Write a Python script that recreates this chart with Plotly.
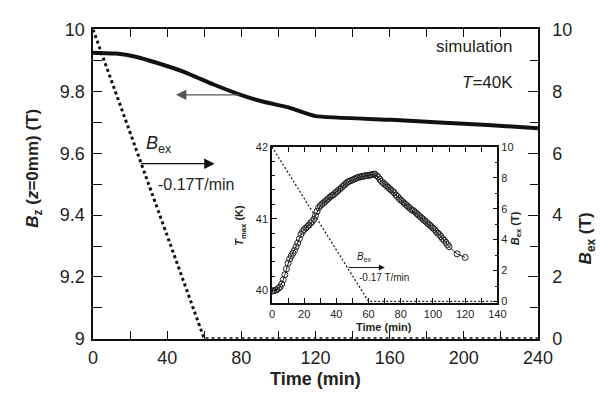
import plotly.graph_objects as go

# ---------------- data ----------------
bz_time = [0, 12.5, 23, 33.4, 49, 64.7, 77.7, 90.8, 104.9, 120, 161, 213, 240]
bz_vals = [9.925, 9.922, 9.912, 9.894, 9.863, 9.823, 9.793, 9.768, 9.749, 9.720, 9.708, 9.691, 9.681]

bex_time = [0, 60, 240]
bex_vals = [10, 0, 0]

inset_bex_time = [0, 60, 140]
inset_bex_vals = [10, 0, 0]

tmax_time = list(range(0, 111)) + [115, 120]
tmax_vals = [
    39.99, 40.00, 40.00, 40.01, 40.03, 40.05, 40.09, 40.15, 40.22, 40.30,
    40.38, 40.44, 40.48, 40.52, 40.56, 40.61, 40.66, 40.72, 40.78, 40.82,
    40.85, 40.87, 40.89, 40.91, 40.94, 40.96, 40.99, 41.04, 41.10, 41.15,
    41.18, 41.20, 41.22, 41.24, 41.26, 41.28, 41.30, 41.32, 41.33, 41.35,
    41.37, 41.39, 41.41, 41.43, 41.45, 41.47, 41.49, 41.51, 41.52, 41.53,
    41.54, 41.55, 41.56, 41.57, 41.58, 41.58, 41.59, 41.59, 41.60, 41.60,
    41.60, 41.61, 41.61, 41.62, 41.62, 41.60, 41.58, 41.55, 41.52, 41.50,
    41.48, 41.46, 41.44, 41.42, 41.40, 41.38, 41.36, 41.33, 41.31, 41.28,
    41.26, 41.24, 41.22, 41.20, 41.18, 41.16, 41.14, 41.12, 41.11, 41.09,
    41.07, 41.05, 41.03, 41.01, 40.99, 40.97, 40.95, 40.93, 40.91, 40.89,
    40.87, 40.85, 40.82, 40.80, 40.78, 40.75, 40.72, 40.70, 40.67, 40.64,
    40.61, 40.51, 40.46,
]

main_x_ticks = [0, 40, 80, 120, 160, 200, 240]
main_yl_ticks = [9, 9.2, 9.4, 9.6, 9.8, 10]
main_yl_labels = ["9", "9.2", "9.4", "9.6", "9.8", "10"]
main_yr_ticks = [0, 2, 4, 6, 8, 10]
inset_x_ticks = [0, 20, 40, 60, 80, 100, 120, 140]
inset_yl_ticks = [40, 41, 42]
inset_yr_ticks = [0, 2, 4, 6, 8, 10]

# ---------------- layout helpers ----------------
W, H = 611, 403
FONT = "Arial, Liberation Sans, sans-serif"
TXT = "#231f20"


def px(x):
    return x / W


def py(y):
    return 1 - y / H


fig = go.Figure()

# main traces
fig.add_trace(go.Scatter(x=bz_time, y=bz_vals, mode="lines",
                         line=dict(color="#111", width=4, shape="spline", smoothing=0.4),
                         xaxis="x", yaxis="y", showlegend=False))
fig.add_trace(go.Scatter(x=bex_time, y=bex_vals, mode="lines",
                         line=dict(color="#111", width=3, dash="3px,3px"),
                         xaxis="x", yaxis="y2", showlegend=False))
# inset traces
fig.add_trace(go.Scatter(x=inset_bex_time, y=inset_bex_vals, mode="lines",
                         line=dict(color="#222", width=1.3, dash="2px,2px"),
                         xaxis="x2", yaxis="y4", showlegend=False))
fig.add_trace(go.Scatter(x=tmax_time, y=tmax_vals, mode="lines+markers",
                         line=dict(color="#222", width=1),
                         marker=dict(symbol="circle-open", size=6,
                                     color="#222", line=dict(width=1)),
                         xaxis="x2", yaxis="y3", showlegend=False))

axis_common = dict(showline=True, linecolor="#111", linewidth=1.5,
                   showgrid=False, zeroline=False, ticks="inside",
                   tickcolor="#111", tickwidth=1.2)

main_dom_x = [px(91), px(551)]
main_dom_y = [py(346), py(20.5)]
ins_dom_x = [px(276), px(509)]
ins_dom_y = [py(308), py(144)]

fig.update_layout(
    width=W, height=H,
    margin=dict(l=0, r=0, t=0, b=0),
    paper_bgcolor="white", plot_bgcolor="rgba(0,0,0,0)",
    font=dict(family=FONT, color=TXT),
    xaxis=dict(domain=main_dom_x, anchor="y", range=[0, 240],
               tickvals=main_x_ticks, ticklen=8, mirror="allticks",
               ticklabelstandoff=2,
               minor=dict(dtick=20, ticklen=5, ticks="inside", tickcolor="#111"),
               tickfont=dict(size=18, color=TXT), **axis_common),
    yaxis=dict(domain=main_dom_y, anchor="x", range=[9, 10],
               tickvals=main_yl_ticks, ticktext=main_yl_labels, ticklen=9,
               ticklabelstandoff=3,
               minor=dict(dtick=0.1, ticklen=9, ticks="inside", tickcolor="#111"),
               tickfont=dict(size=18, color=TXT), **axis_common),
    yaxis2=dict(domain=main_dom_y, anchor="x", overlaying="y", side="right",
                range=[0, 10], tickvals=main_yr_ticks, ticklen=10,
                ticklabelstandoff=9,
                minor=dict(dtick=1, ticklen=8, ticks="inside", tickcolor="#111"),
                tickfont=dict(size=18, color=TXT), **axis_common),
    xaxis2=dict(domain=ins_dom_x, anchor="y3", range=[0, 140],
                tickvals=inset_x_ticks, ticklen=5, mirror="allticks",
                minor=dict(dtick=10, ticklen=3, ticks="inside", tickcolor="#111"),
                tickfont=dict(size=11, color=TXT), **axis_common),
    yaxis3=dict(domain=ins_dom_y, anchor="x2", range=[39.83, 42],
                tickvals=inset_yl_ticks, ticklen=5,
                minor=dict(dtick=0.2, ticklen=3, ticks="inside", tickcolor="#111"),
                tickfont=dict(size=11, color=TXT), **axis_common),
    yaxis4=dict(domain=ins_dom_y, anchor="x2", overlaying="y3", side="right",
                range=[-0.08, 10], tickvals=inset_yr_ticks, ticklen=5,
                minor=dict(dtick=1, ticklen=3, ticks="inside", tickcolor="#111"),
                tickfont=dict(size=11, color=TXT), **axis_common),
)

ann = []


def text(x, y, s, size, xanchor="center", angle=0):
    ann.append(dict(x=px(x), y=py(y), xref="paper", yref="paper", text=s,
                    showarrow=False, xanchor=xanchor, yanchor="middle",
                    textangle=angle, font=dict(size=size, color=TXT, family=FONT)))


def arrow(x_tip, y_tip, x_tail, size=1.0, width=1.2, color="#111"):
    ann.append(dict(x=px(x_tip), y=py(y_tip), xref="paper", yref="paper",
                    ax=x_tail - x_tip, ay=0, axref="pixel", ayref="pixel",
                    text="", showarrow=True, arrowhead=2, arrowsize=size,
                    arrowwidth=width, arrowcolor=color))


# main axis titles
text(321, 388, "<b>Time (min)</b>", 18)
text(30, 167, "<b><i>B</i><sub>z</sub> (<i>z</i>=0mm) (T)</b>", 17, angle=-90)
text(602, 240, "<b><i>B</i><sub>ex</sub> (T)</b>", 17, angle=-90)
# main labels
text(527, 38, "simulation", 17, xanchor="right")
text(527, 76, "<i>T</i>=40K", 17, xanchor="right")
text(144, 142, "<i>B</i><sub>ex</sub>", 18, xanchor="left")
text(156, 184, "-0.17T/min", 16, xanchor="left")
arrow(216.7, 161.7, 141.7, size=1.6, width=1.3)
arrow(176.7, 89.3, 241.7, size=1.6, width=1.3, color="#555")
# inset titles
text(392, 334, "<b>Time (min)</b>", 11)
text(243, 227, "<b><i>T</i><sub>max</sub> (K)</b>", 11, angle=-90)
text(528, 230, "<b><i>B</i><sub>ex</sub> (T)</b>", 11, angle=-90)
# inset labels
text(362, 260, "<i>B</i><sub>ex</sub>", 10, xanchor="left")
text(364, 281, "-0.17 T/min", 10, xanchor="left")
arrow(392.7, 271, 355, size=1.2, width=1)

fig.update_layout(annotations=ann)
fig.write_html("out.html")
